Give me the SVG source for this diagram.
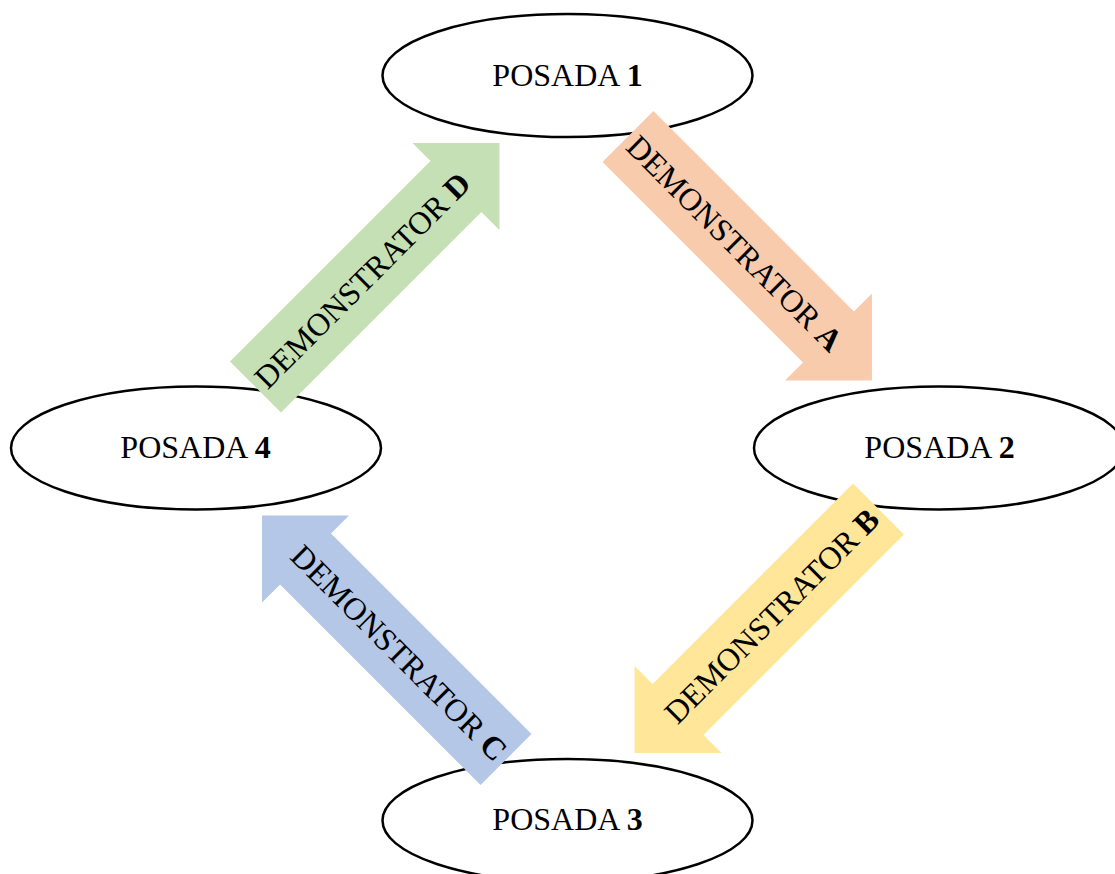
<svg xmlns="http://www.w3.org/2000/svg" width="1115" height="874" viewBox="0 0 1115 874">
  <defs>
    <style>
      .node { fill: #ffffff; stroke: #000000; stroke-width: 2.5; }
      .lbl { font-family: "Liberation Serif", "Times New Roman", serif; font-size: 32px; fill: #000000; text-anchor: middle; }
      .b { font-weight: bold; }
      .a { fill: #F8CBAD; }
      .bb { fill: #FFE699; }
      .c { fill: #B4C7E7; }
      .d { fill: #C5E0B4; }
    </style>
    <path id="arrow" d="M0,-36 L283.5,-36 L283.5,-61.5 L345,0 L283.5,61.5 L283.5,36 L0,36 Z"/>
  </defs>
  <rect width="1115" height="874" fill="#ffffff"/>

  <g id="posada1">
    <ellipse class="node" cx="567.5" cy="75.5" rx="185" ry="61.5"/>
    <text class="lbl" x="567.5" y="86">POSADA <tspan class="b">1</tspan></text>
  </g>
  <g id="posada2">
    <ellipse class="node" cx="939" cy="448" rx="185" ry="61.5"/>
    <text class="lbl" x="939.5" y="458">POSADA <tspan class="b">2</tspan></text>
  </g>
  <g id="posada3">
    <ellipse class="node" cx="567.5" cy="820.5" rx="185" ry="61.5"/>
    <text class="lbl" x="567.5" y="830">POSADA <tspan class="b">3</tspan></text>
  </g>
  <g id="posada4">
    <ellipse class="node" cx="196" cy="448" rx="185" ry="61.5"/>
    <text class="lbl" x="195.5" y="458">POSADA <tspan class="b">4</tspan></text>
  </g>

  <g id="connectors">
    <g id="demoA">
      <use href="#arrow" class="a" transform="translate(628,136.5) rotate(45)"/>
      <text class="lbl" transform="translate(734.8,243.3) rotate(45)" x="0" y="11">DEMONSTRATOR <tspan class="b">A</tspan></text>
    </g>
    <g id="demoB">
      <use href="#arrow" class="bb" transform="translate(878.5,509) rotate(135)"/>
      <text class="lbl" transform="translate(771.7,615.8) rotate(-45)" x="0" y="11">DEMONSTRATOR <tspan class="b">B</tspan></text>
    </g>
    <g id="demoC">
      <use href="#arrow" class="c" transform="translate(506,759.5) rotate(-135)"/>
      <text class="lbl" transform="translate(399.2,652.7) rotate(45)" x="0" y="11">DEMONSTRATOR <tspan class="b">C</tspan></text>
    </g>
    <g id="demoD">
      <use href="#arrow" class="d" transform="translate(255.5,387) rotate(-45)"/>
      <text class="lbl" transform="translate(362.3,280.2) rotate(-45)" x="0" y="11">DEMONSTRATOR <tspan class="b">D</tspan></text>
    </g>
  </g>
</svg>
